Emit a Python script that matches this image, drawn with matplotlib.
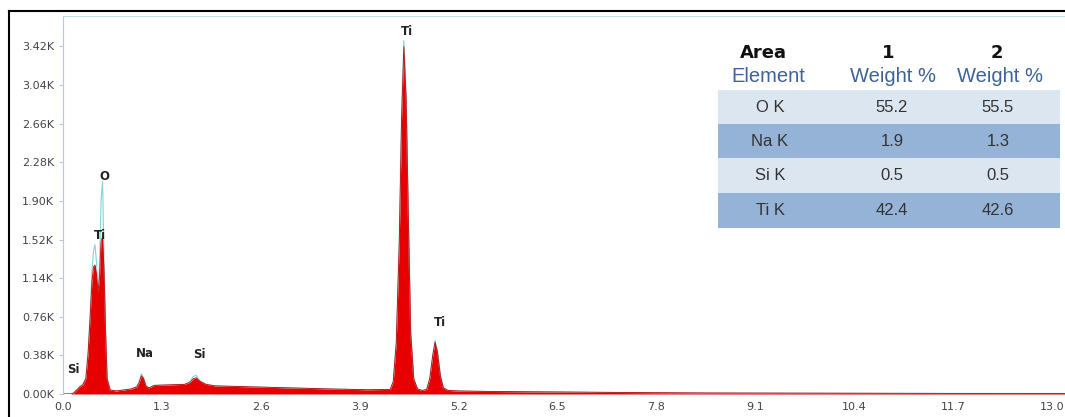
import matplotlib.pyplot as plt
from matplotlib.lines import Line2D
from matplotlib.patches import Rectangle

# spectrum (keV, counts)
energy = [0.0, 0.10, 0.14, 0.18, 0.22, 0.26, 0.30, 0.33, 0.36, 0.38, 0.40, 0.42, 0.44,
          0.46, 0.48, 0.50, 0.52, 0.54, 0.56, 0.58, 0.62, 0.70, 0.80, 0.90, 0.97,
          1.00, 1.03, 1.06, 1.09, 1.13, 1.20, 1.40, 1.60, 1.67, 1.71, 1.75, 1.80,
          1.88, 2.00, 2.50, 3.00, 3.50, 4.00, 4.30, 4.34, 4.38, 4.42, 4.45, 4.48,
          4.51, 4.54, 4.57, 4.61, 4.66, 4.72, 4.78, 4.82, 4.86, 4.89, 4.92, 4.96,
          5.00, 5.06, 5.20, 5.60, 6.50, 7.50, 8.50, 10.0, 11.5, 13.2]
counts_1 = [0, 0, 10, 40, 70, 90, 150, 400, 800, 1100, 1250, 1270, 1180,
            1000, 1150, 1500, 1550, 1200, 600, 150, 40, 30, 40, 50, 70,
            110, 180, 150, 80, 60, 85, 90, 95, 115, 150, 160, 125,
            95, 80, 70, 60, 50, 42, 45, 120, 500, 1500, 2700, 3420,
            2900, 1700, 600, 150, 50, 35, 45, 150, 380, 510, 420, 180,
            60, 35, 30, 25, 20, 14, 10, 8, 6, 5]
counts_2 = [0, 0, 10, 40, 75, 95, 160, 420, 850, 1200, 1400, 1470, 1300,
            1030, 1250, 1900, 2090, 1300, 620, 155, 40, 30, 40, 50, 75,
            120, 200, 160, 80, 60, 85, 90, 95, 125, 170, 185, 130,
            95, 80, 70, 60, 50, 42, 45, 125, 520, 1550, 2780, 3480,
            2950, 1720, 610, 150, 50, 35, 45, 155, 390, 530, 430, 185,
            60, 35, 30, 25, 20, 14, 10, 8, 6, 5]

# peak labels
peak_names = ["Si", "O", "Ti", "Na", "Si", "Ti", "Ti"]
peak_x = [0.13, 0.54, 0.49, 1.08, 1.79, 4.52, 4.95]
peak_y = [177, 2080, 1496, 335, 325, 3500, 640]

# quantification table
elements = ["O K", "Na K", "Si K", "Ti K"]
area_1 = ["55.2", "1.9", "0.5", "42.4"]
area_2 = ["55.5", "1.3", "0.5", "42.6"]

yticks = [0, 380, 760, 1140, 1520, 1900, 2280, 2660, 3040, 3420]
xticks = [0.0, 1.3, 2.6, 3.9, 5.2, 6.5, 7.8, 9.1, 10.4, 11.7, 13.0]

W, H = 1065, 417
fig = plt.figure(figsize=(W / 100, H / 100), dpi=100)
ax = fig.add_axes([63 / W, 1 - 394 / H, (W - 63) / W, (394 - 16) / H])

ax.fill_between(energy, counts_1, 0, color="#e60000", lw=0)
ax.plot(energy, counts_2, color="#7fd6dc", lw=0.8)
ax.plot(energy, counts_1, color="#cc0000", lw=0.6)

for name, x, y in zip(peak_names, peak_x, peak_y):
    ax.text(x, y, name, ha="center", va="bottom", fontsize=8.5,
            fontweight="bold", color="#222222")

ax.set_xlim(0, 13.17)
ax.set_ylim(0, 3720)
ax.set_xticks(xticks)
ax.set_xticklabels([f"{v:.1f}" for v in xticks])
ax.set_yticks(yticks)
ax.set_yticklabels([f"{v / 1000:.2f}K" for v in yticks])
ax.tick_params(axis="both", labelsize=8, colors="#444444", length=3, width=0.6)
ax.tick_params(axis="x", length=0, pad=6)
ax.tick_params(axis="y", color="#aabbcc")
for s in ["right", "bottom"]:
    ax.spines[s].set_visible(False)
ax.spines["left"].set_color("#b8c8d8")
ax.spines["top"].set_color("#bfe0e4")
ax.axhline(0, color="#9fd8dc", lw=1.2, zorder=0)

# outer frame lines
fig.add_artist(Line2D([9 / W, 1], [1 - 11 / H] * 2, color="black", lw=1.5))
fig.add_artist(Line2D([9 / W] * 2, [0, 1 - 11 / H], color="black", lw=1.5))

# table drawn in pixel coordinates
tx0, tx1 = 718, 1060
row_tops = [90, 124, 158, 193, 228]
row_cols = ["#dce6f1", "#95b3d7", "#dce6f1", "#95b3d7"]
col_x = [770, 892, 998]


def fx(px):
    return px / W


def fy(py):
    return 1 - py / H


for i in range(4):
    fig.add_artist(Rectangle((fx(tx0), fy(row_tops[i + 1])), fx(tx1) - fx(tx0),
                             fy(row_tops[i]) - fy(row_tops[i + 1]),
                             facecolor=row_cols[i], edgecolor="none"))
    yc = fy((row_tops[i] + row_tops[i + 1]) / 2)
    for x, t in zip(col_x, [elements[i], area_1[i], area_2[i]]):
        fig.text(fx(x), yc, t, ha="center", va="center", fontsize=12,
                 color="#333333", family="Liberation Sans")

for x, t in zip([763, 888, 997], ["Area", "1", "2"]):
    fig.text(fx(x), fy(53), t, ha="center", va="center", fontsize=13,
             fontweight="bold", color="#111111")
for x, t in zip([768, 893, 1000], ["Element", "Weight %", "Weight %"]):
    fig.text(fx(x), fy(76), t, ha="center", va="center", fontsize=14.5,
             color="#3d6399", family="Liberation Sans")

fig.savefig("out.png", dpi=100)
